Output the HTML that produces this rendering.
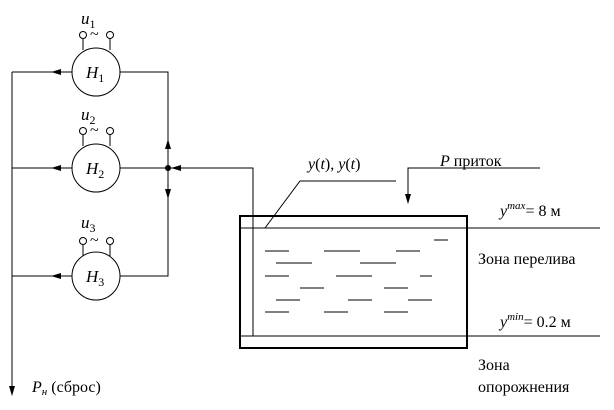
<!DOCTYPE html>
<html><head><meta charset="utf-8"><style>
html,body{margin:0;padding:0;background:#fff;}
svg{display:block;}
svg text{font-family:"Liberation Serif","DejaVu Serif",serif !important;fill:#000;}
</style></head><body>
<svg width="614" height="410" viewBox="0 0 614 410" xmlns="http://www.w3.org/2000/svg">
<defs>
<marker id="a" markerWidth="10" markerHeight="8" refX="9" refY="4" orient="auto" markerUnits="userSpaceOnUse">
<path d="M0,1 L10,4 L0,7 Z" fill="#000"/></marker>
</defs>
<g stroke="#000" stroke-width="1" fill="none">
<line x1="12" y1="72" x2="12" y2="395" marker-end="url(#a)"/>
<line x1="72" y1="72" x2="12" y2="72"/><line x1="72" y1="72" x2="52" y2="72" marker-end="url(#a)"/>
<line x1="72" y1="168" x2="12" y2="168"/><line x1="72" y1="168" x2="52" y2="168" marker-end="url(#a)"/>
<line x1="72" y1="276" x2="12" y2="276"/><line x1="72" y1="276" x2="52" y2="276" marker-end="url(#a)"/>
<polyline points="120,72 168,72 168,276 120,276"/>
<line x1="120" y1="168" x2="168" y2="168"/>
<line x1="168" y1="168" x2="168" y2="140" marker-end="url(#a)"/>
<line x1="168" y1="168" x2="168" y2="198" marker-end="url(#a)"/>
<polyline points="253,336 253,168 168,168"/>
<line x1="190" y1="168" x2="172" y2="168" marker-end="url(#a)"/>
<circle cx="96" cy="72" r="24"/><circle cx="96" cy="168" r="24"/><circle cx="96" cy="276" r="24"/>
<g id="t1">
<circle cx="83" cy="35" r="3.5"/><circle cx="110" cy="35" r="3.5"/>
<polyline points="83,38.5 83,50"/><polyline points="110,38.5 110,50"/>
</g>
<use href="#t1" y="96"/><use href="#t1" y="206"/>
<rect x="240" y="216" width="227" height="132" stroke-width="2"/>
<line x1="240" y1="228" x2="600" y2="228"/>
<line x1="240" y1="336" x2="600" y2="336"/>
<polyline points="265,228 300,181 396,181"/>
<polyline points="540,168 408,168 408,202" />
<line x1="408" y1="190" x2="408" y2="203" marker-end="url(#a)"/>
<path d="M434,240h14 M265,251h24 M324,251h36 M396,251h24 M276,263h36 M360,263h36 M265,276h24 M336,276h36 M420,276h12 M300,288h24 M384,288h24 M276,300h24 M348,300h24 M408,300h24 M265,312h24 M324,312h24 M384,312h24"/>
</g>
<circle cx="168" cy="168" r="3" fill="#000"/>
<g font-size="17" font-style="italic">
<text x="81" y="24">u<tspan font-size="12" font-style="normal" dy="4">1</tspan></text>
<text x="81" y="120">u<tspan font-size="12" font-style="normal" dy="4">2</tspan></text>
<text x="81" y="228">u<tspan font-size="12" font-style="normal" dy="4">3</tspan></text>
<text x="86" y="78">H<tspan font-size="12" font-style="normal" dy="4">1</tspan></text>
<text x="86" y="174">H<tspan font-size="12" font-style="normal" dy="4">2</tspan></text>
<text x="86" y="282">H<tspan font-size="12" font-style="normal" dy="4">3</tspan></text>
</g>
<g font-size="16">
<text x="90" y="39">~</text><text x="90" y="135">~</text><text x="90" y="245">~</text>
<text x="308" y="169"><tspan font-style="italic">y</tspan>(<tspan font-style="italic">t</tspan>),  <tspan font-style="italic">y</tspan>(<tspan font-style="italic">t</tspan>)</text>
<text x="440" y="166"><tspan font-style="italic">P</tspan> приток</text>
<text x="500" y="216"><tspan font-style="italic">y</tspan><tspan font-size="11" font-style="italic" dy="-7">max</tspan><tspan dy="7">= 8  м</tspan></text>
<text x="478" y="264">Зона перелива</text>
<text x="500" y="327"><tspan font-style="italic">y</tspan><tspan font-size="11" font-style="italic" dy="-7">min</tspan><tspan dy="7">= 0.2  м</tspan></text>
<text x="478" y="370">Зона</text>
<text x="478" y="392">опорожнения</text>
<text x="32" y="392"><tspan font-style="italic">P</tspan><tspan font-size="11" font-style="italic" dy="3">н</tspan><tspan dy="-3"> (сброс)</tspan></text>
</g>
</svg>
</body></html>
